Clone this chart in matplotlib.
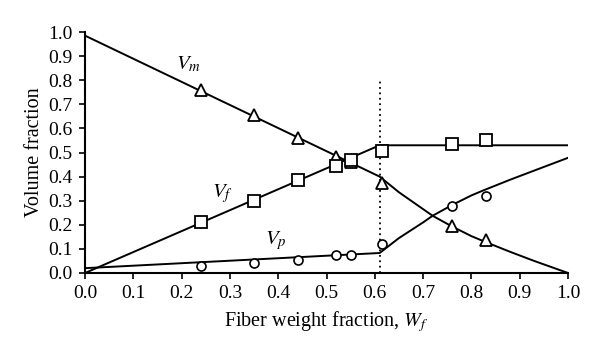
import matplotlib
matplotlib.use("Agg")
import matplotlib.pyplot as plt

plt.rcParams['font.family'] = ['Liberation Serif', 'DejaVu Serif']
plt.rcParams['mathtext.fontset'] = 'stix'

# measured data
wf_data = [0.24, 0.35, 0.44, 0.52, 0.55, 0.615, 0.76, 0.83]
vm_data = [0.76, 0.655, 0.56, 0.48, 0.462, 0.374, 0.195, 0.135]
vf_data = [0.21, 0.30, 0.387, 0.445, 0.47, 0.508, 0.535, 0.552]
vp_data = [0.027, 0.042, 0.055, 0.073, 0.073, 0.122, 0.277, 0.318]

# model curves
vm_x = [0.0, 0.61, 0.65, 0.70, 0.72, 0.76, 0.80, 0.825, 0.88, 0.93, 1.0]
vm_y = [0.985, 0.40, 0.335, 0.265, 0.237, 0.193, 0.153, 0.132, 0.088, 0.050, 0.0]
vf_x = [0.0, 0.61, 1.0]
vf_y = [0.0, 0.53, 0.53]
vp_x = [0.0, 0.61, 0.65, 0.70, 0.72, 0.76, 0.80, 0.825, 0.88, 0.93, 1.0]
vp_y = [0.02, 0.083, 0.145, 0.21, 0.238, 0.282, 0.322, 0.343, 0.387, 0.425, 0.478]

xticks = [0.0, 0.1, 0.2, 0.3, 0.4, 0.5, 0.6, 0.7, 0.8, 0.9, 1.0]
yticks = [0.0, 0.1, 0.2, 0.3, 0.4, 0.5, 0.6, 0.7, 0.8, 0.9, 1.0]

fig = plt.figure(figsize=(6.0, 3.57), dpi=100)
ax = fig.add_axes([0.1417, 0.2353, 0.805, 0.675])

lw = 1.4
ax.plot(vm_x, vm_y, color='black', lw=lw, zorder=2)
ax.plot(vf_x, vf_y, color='black', lw=lw, zorder=2)
ax.plot(vp_x, vp_y, color='black', lw=lw, zorder=2)

ax.plot([0.61, 0.61], [0.0, 0.80], color='black', lw=1.3, linestyle=(0, (1, 2)), zorder=1)

ax.plot(wf_data, vm_data, linestyle='none', marker='^', ms=9, mfc='white', mec='black', mew=1.3, zorder=3)
ax.plot(wf_data, vf_data, linestyle='none', marker='s', ms=8, mfc='white', mec='black', mew=1.3, zorder=3)
ax.plot(wf_data, vp_data, linestyle='none', marker='o', ms=6.5, mfc='white', mec='black', mew=1.2, zorder=3)

ax.text(0.215, 0.865, r'$V_m$', fontsize=15, ha='center', va='center')
ax.text(0.285, 0.33, r'$V_f$', fontsize=15, ha='center', va='center')
ax.text(0.395, 0.135, r'$V_p$', fontsize=15, ha='center', va='center')

ax.set_xlim(0, 1.0)
ax.set_ylim(0, 1.0)
ax.set_xticks(xticks)
ax.set_yticks(yticks)
ax.set_xticklabels([f'{t:.1f}' for t in xticks])
ax.set_yticklabels([f'{t:.1f}' for t in yticks])
ax.tick_params(direction='out', length=4, width=1.2, labelsize=14, colors='black')
ax.tick_params(axis='x', pad=5)
ax.tick_params(axis='y', pad=5)
for s in ['top', 'right']:
    ax.spines[s].set_visible(False)
for s in ['left', 'bottom']:
    ax.spines[s].set_linewidth(1.5)

ax.set_xlabel(r'Fiber weight fraction, $W_f$', fontsize=14.5, labelpad=5)
ax.set_ylabel('Volume fraction', fontsize=14.5, labelpad=3)

fig.savefig('out.png', dpi=100)
